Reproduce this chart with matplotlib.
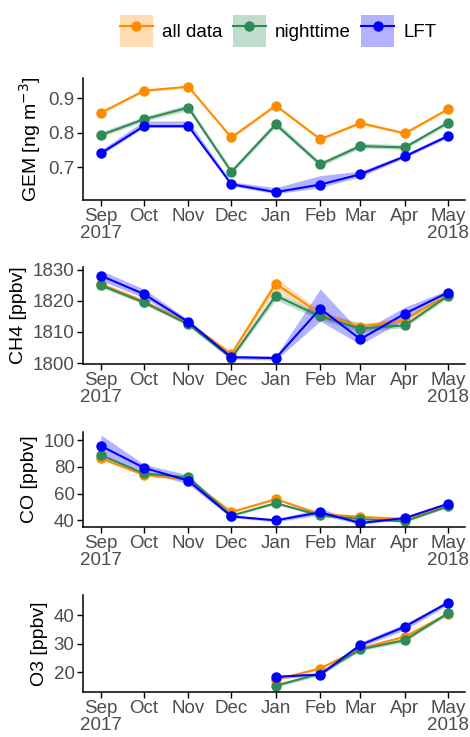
from datetime import datetime, timedelta

import numpy as np
import matplotlib.pyplot as plt
from matplotlib.lines import Line2D
from matplotlib.patches import Patch
from matplotlib.legend_handler import HandlerTuple

plt.rcParams['font.family'] = ['Liberation Sans', 'DejaVu Sans']

months = [datetime(2017, 9, 1), datetime(2017, 10, 1), datetime(2017, 11, 1),
          datetime(2017, 12, 1), datetime(2018, 1, 1), datetime(2018, 2, 1),
          datetime(2018, 3, 1), datetime(2018, 4, 1), datetime(2018, 5, 1)]
month_labels = ['Sep\n2017', 'Oct', 'Nov', 'Dec', 'Jan', 'Feb', 'Mar', 'Apr', 'May\n2018']
series = ['all data', 'nighttime', 'LFT']
nan = np.nan

# GEM [ng m-3]
gem_all = [0.858, 0.922, 0.934, 0.786, 0.879, 0.781, 0.828, 0.798, 0.868]
gem_all_lo = [0.854, 0.918, 0.930, 0.782, 0.875, 0.777, 0.824, 0.794, 0.864]
gem_all_hi = [0.862, 0.926, 0.938, 0.790, 0.883, 0.785, 0.832, 0.802, 0.872]
gem_night = [0.793, 0.839, 0.873, 0.686, 0.824, 0.708, 0.761, 0.757, 0.829]
gem_night_lo = [0.788, 0.833, 0.865, 0.680, 0.817, 0.702, 0.755, 0.752, 0.823]
gem_night_hi = [0.803, 0.847, 0.882, 0.695, 0.835, 0.715, 0.770, 0.765, 0.833]
gem_lft = [0.740, 0.819, 0.819, 0.650, 0.627, 0.649, 0.679, 0.731, 0.790]
gem_lft_lo = [0.735, 0.815, 0.815, 0.645, 0.622, 0.640, 0.672, 0.727, 0.785]
gem_lft_hi = [0.750, 0.834, 0.834, 0.657, 0.640, 0.675, 0.688, 0.737, 0.797]

# CH4 [ppbv]
ch4_all = [1825.4, 1819.8, 1812.9, 1802.9, 1825.5, 1815.9, 1811.6, 1813.9, 1822.0]
ch4_all_lo = [1824.7, 1819.1, 1812.2, 1802.2, 1823.5, 1815.0, 1810.8, 1813.0, 1821.3]
ch4_all_hi = [1826.1, 1820.5, 1813.6, 1803.6, 1827.5, 1816.8, 1812.5, 1814.8, 1822.7]
ch4_night = [1825.0, 1819.5, 1812.5, 1801.6, 1821.7, 1815.0, 1811.1, 1812.1, 1821.6]
ch4_night_lo = [1824.4, 1818.9, 1811.9, 1801.0, 1820.3, 1814.0, 1810.0, 1811.4, 1821.0]
ch4_night_hi = [1825.6, 1820.1, 1813.1, 1802.2, 1823.0, 1816.0, 1813.0, 1812.8, 1822.2]
ch4_lft = [1828.1, 1822.2, 1813.2, 1801.9, 1801.6, 1817.5, 1807.7, 1815.9, 1822.7]
ch4_lft_lo = [1826.5, 1821.0, 1812.5, 1801.3, 1801.0, 1813.5, 1806.0, 1814.0, 1822.0]
ch4_lft_hi = [1829.8, 1823.8, 1814.0, 1802.5, 1802.3, 1823.8, 1810.0, 1818.0, 1823.5]

# CO [ppbv]
co_all = [86.4, 74.0, 70.7, 46.2, 55.9, 44.7, 42.7, 41.0, 51.6]
co_all_lo = [85.6, 73.2, 69.9, 45.4, 55.1, 43.9, 41.9, 40.2, 50.8]
co_all_hi = [87.2, 74.8, 71.5, 47.0, 56.7, 45.5, 43.5, 41.8, 52.4]
co_night = [88.8, 75.2, 72.2, 43.5, 52.9, 43.7, 41.0, 39.3, 50.4]
co_night_lo = [87.0, 74.0, 71.0, 42.7, 52.1, 42.9, 40.2, 38.5, 49.6]
co_night_hi = [90.0, 76.0, 73.0, 44.3, 53.7, 44.5, 41.8, 40.1, 51.2]
co_lft = [95.8, 79.4, 69.7, 43.0, 40.0, 46.0, 38.0, 41.7, 52.4]
co_lft_lo = [88.0, 77.0, 67.0, 42.0, 39.0, 44.0, 37.0, 41.0, 51.5]
co_lft_hi = [104.0, 82.0, 74.0, 44.0, 41.0, 49.0, 39.0, 42.5, 53.0]

# O3 [ppbv], no data before January
o3_all = [nan, nan, nan, nan, 17.4, 21.3, 28.3, 32.4, 40.4]
o3_all_lo = [nan, nan, nan, nan, 16.8, 20.7, 27.7, 31.8, 39.8]
o3_all_hi = [nan, nan, nan, nan, 18.0, 21.9, 28.9, 33.0, 41.0]
o3_night = [nan, nan, nan, nan, 15.3, 19.5, 28.0, 31.2, 40.6]
o3_night_lo = [nan, nan, nan, nan, 14.7, 18.9, 27.4, 30.6, 40.0]
o3_night_hi = [nan, nan, nan, nan, 15.9, 20.1, 28.6, 31.8, 41.2]
o3_lft = [nan, nan, nan, nan, 18.4, 19.2, 29.5, 35.9, 44.3]
o3_lft_lo = [nan, nan, nan, nan, 17.8, 18.7, 28.8, 34.8, 43.5]
o3_lft_hi = [nan, nan, nan, nan, 19.0, 19.7, 30.5, 37.0, 45.0]

colors = ['#FF8C00', '#2E8B57', '#0000FF']

panels = [
    ('GEM [ng m$^{-3}$]', [(gem_all, gem_all_lo, gem_all_hi),
                           (gem_night, gem_night_lo, gem_night_hi),
                           (gem_lft, gem_lft_lo, gem_lft_hi)],
     (0.604, 0.959), [0.7, 0.8, 0.9], [0.1766, 0.7286, 0.8128, 0.1655]),
    ('CH4 [ppbv]', [(ch4_all, ch4_all_lo, ch4_all_hi),
                    (ch4_night, ch4_night_lo, ch4_night_hi),
                    (ch4_lft, ch4_lft_lo, ch4_lft_hi)],
     (1799.7, 1830.9), [1800, 1810, 1820, 1830], [0.1766, 0.5061, 0.8128, 0.1316]),
    ('CO [ppbv]', [(co_all, co_all_lo, co_all_hi),
                   (co_night, co_night_lo, co_night_hi),
                   (co_lft, co_lft_lo, co_lft_hi)],
     (35.0, 106.2), [40, 60, 80, 100], [0.1766, 0.2849, 0.8128, 0.1289]),
    ('O3 [ppbv]', [(o3_all, o3_all_lo, o3_all_hi),
                   (o3_night, o3_night_lo, o3_night_hi),
                   (o3_lft, o3_lft_lo, o3_lft_hi)],
     (13.1, 47.0), [20, 30, 40], [0.1766, 0.0611, 0.8128, 0.1316]),
]

fig = plt.figure(figsize=(4.7, 7.37), dpi=100)
axes = []
for label, data, ylim, yticks, rect in panels:
    ax = fig.add_axes(rect)
    for (mid, lo, hi), c in zip(data, colors):
        ax.fill_between(months, lo, hi, color=c, alpha=0.3, linewidth=0)
    for (mid, lo, hi), c in zip(data, colors):
        ax.plot(months, mid, color=c, lw=1.5, marker='o', markersize=6.5)
    ax.set_xlim(months[0] - timedelta(days=12.5), months[-1] + timedelta(days=12))
    ax.set_ylim(*ylim)
    ax.set_yticks(yticks)
    ax.set_xticks(months)
    ax.set_xticklabels(month_labels, linespacing=0.95)
    ax.set_ylabel(label, fontsize=14, labelpad=4)
    ax.tick_params(labelsize=13.5, labelcolor='#4D4D4D', length=4, width=1, pad=2)
    for s in ['top', 'right']:
        ax.spines[s].set_visible(False)
    for s in ['left', 'bottom']:
        ax.spines[s].set_linewidth(1.1)
    axes.append(ax)
fig.align_ylabels(axes)

handles = [(Patch(facecolor=c, alpha=0.3, edgecolor='none'),
            Line2D([], [], color=c, lw=1.5, marker='o', markersize=6.5)) for c in colors]
fig.legend(handles, series, ncol=3, loc='center', bbox_to_anchor=(0.592, 0.958),
           frameon=False, fontsize=13.5, handler_map={tuple: HandlerTuple(ndivide=1, pad=0)},
           handlelength=1.75, handleheight=2.2, columnspacing=0.55, handletextpad=0.5)

fig.savefig('out.png', dpi=100)
